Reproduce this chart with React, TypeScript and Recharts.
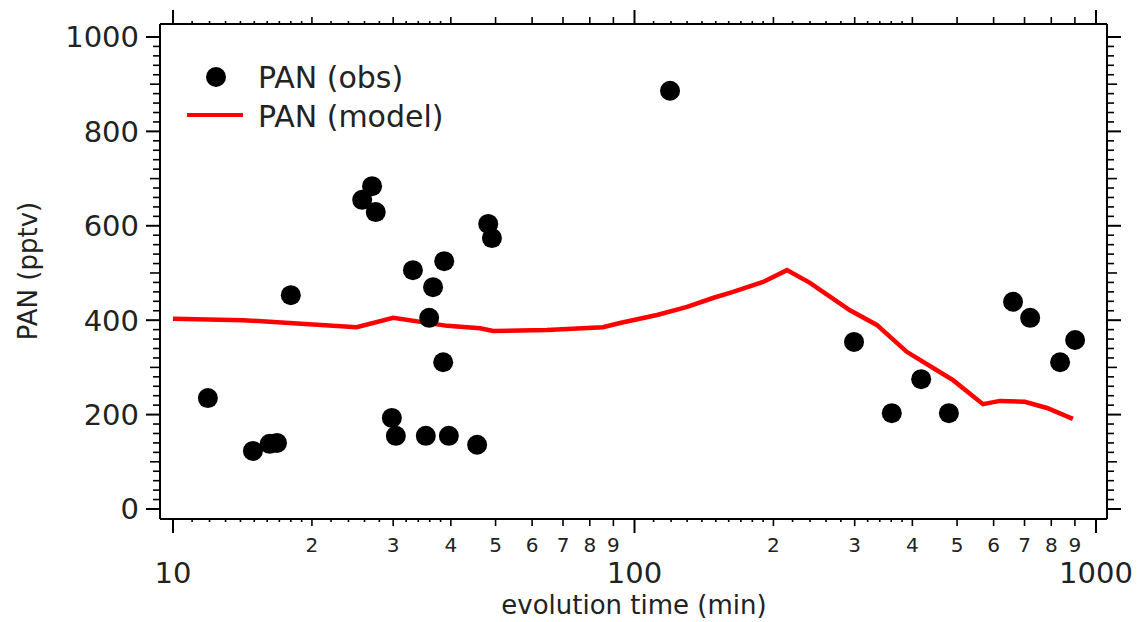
import React from 'react';
import { ScatterChart, Scatter, XAxis, YAxis, Legend } from 'recharts';

// ---- data ----
const obsTime = [11.9, 14.9, 16.2, 16.8, 18.0, 25.7, 27.0, 27.5, 29.8, 30.4, 33.1, 35.3, 35.9, 36.6, 38.5, 38.7, 39.6, 45.6, 48.2, 49.1, 119.4, 299, 361, 418, 480, 661, 720, 836, 901];
const obsPAN = [235, 123, 138, 140, 453, 655, 684, 629, 193, 155, 506, 155, 405, 470, 311, 525, 155, 136, 604, 574, 886, 354, 203, 275, 203, 439, 405, 311, 358];

const modelTime = [10, 14.2, 25.0, 30.0, 39.3, 46.3, 49.4, 64.6, 85.4, 93.0, 111.9, 130, 147.9, 163.5, 190, 214, 240, 293, 335, 389, 452, 490, 569, 619, 701, 783, 891];
const modelPAN = [403, 400, 385, 405, 388, 383, 377, 379, 385, 394, 411, 428, 447, 460, 481, 506, 479, 421, 390, 333, 294, 273, 222, 229, 227, 214, 191];

const xMajorTicks = [10, 100, 1000];
const xMajorLabels = ['10', '100', '1000'];
const xMediumTicks = [20, 30, 40, 50, 60, 70, 80, 90, 200, 300, 400, 500, 600, 700, 800, 900];
const xMediumLabels = ['2', '3', '4', '5', '6', '7', '8', '9', '2', '3', '4', '5', '6', '7', '8', '9'];
const xMinorTicks = [11, 12, 13, 14, 15, 16, 17, 18, 19, 22, 24, 26, 28, 32, 34, 36, 38, 110, 120, 130, 140, 150, 160, 170, 180, 190, 220, 240, 260, 280, 320, 340, 360, 380];
const yLabelTicks = [0, 200, 400, 600, 800, 1000];
const yLabels = ['0', '200', '400', '600', '800', '1000'];

const obsData = obsTime.map((t, i) => ({ t, v: obsPAN[i] }));
const modelData = modelTime.map((t, i) => ({ t, v: modelPAN[i] }));

const xTicks = [...xMajorTicks, ...xMediumTicks, ...xMinorTicks].sort((a, b) => a - b);
const yTicks: number[] = Array.from({ length: 51 }, (_, i) => i * 20);

const X_DOMAIN: [number, number] = [9.372, 1056.4];
const Y_DOMAIN: [number, number] = [-21.2, 1027.5];
const FONT = 'DejaVu Sans, Verdana, sans-serif';

const xKind = (v: number) => {
  if (xMajorTicks.includes(v)) return 'major';
  if (xMediumTicks.includes(v)) return 'medium';
  return 'minor';
};

const BottomTick = (props: any) => {
  const { x, y, payload } = props;
  const v = payload.value;
  const kind = xKind(v);
  const len = kind === 'major' ? 14 : kind === 'medium' ? 7 : 3;
  let label: React.ReactNode = null;
  if (kind === 'major') {
    label = (
      <text x={x} y={y + 64} textAnchor="middle" fontSize={29} fontFamily={FONT} fill="#222">
        {xMajorLabels[xMajorTicks.indexOf(v)]}
      </text>
    );
  } else if (kind === 'medium') {
    label = (
      <text x={x} y={y + 33} textAnchor="middle" fontSize={20} fontFamily={FONT} fill="#222">
        {xMediumLabels[xMediumTicks.indexOf(v)]}
      </text>
    );
  }
  return (
    <g>
      <line x1={x} x2={x} y1={y} y2={y + len} stroke="#000" strokeWidth={kind === 'major' ? 2 : 1.6} />
      {label}
    </g>
  );
};

const TopTick = (props: any) => {
  const { x, y, payload } = props;
  const kind = xKind(payload.value);
  const len = kind === 'major' ? 14 : kind === 'medium' ? 7 : 3;
  return <line x1={x} x2={x} y1={y} y2={y - len} stroke="#000" strokeWidth={kind === 'major' ? 2 : 1.6} />;
};

const yLen = (v: number) => (v % 200 === 0 ? 14 : v % 100 === 0 ? 10 : 7);

const LeftTick = (props: any) => {
  const { x, y, payload } = props;
  const v = payload.value;
  const idx = yLabelTicks.indexOf(v);
  return (
    <g>
      <line x1={x} x2={x - yLen(v)} y1={y} y2={y} stroke="#000" strokeWidth={v % 200 === 0 ? 2 : 1.6} />
      {idx >= 0 && (
        <text x={x - 21} y={y} dy="0.36em" textAnchor="end" fontSize={29} fontFamily={FONT} fill="#222">
          {yLabels[idx]}
        </text>
      )}
    </g>
  );
};

const RightTick = (props: any) => {
  const { x, y, payload } = props;
  const v = payload.value;
  return <line x1={x} x2={x + yLen(v)} y1={y} y2={y} stroke="#000" strokeWidth={v % 200 === 0 ? 2 : 1.6} />;
};

const LegendContent = () => (
  <svg width={470} height={140} style={{ overflow: 'visible' }}>
    <circle cx={216} cy={77} r={10} fill="#000" />
    <text x={258} y={77} dy="0.36em" fontSize={30} fontFamily={FONT} fill="#222">PAN (obs)</text>
    <line x1={187} x2={243} y1={115} y2={115} stroke="#ff0000" strokeWidth={4} />
    <text x={258} y={116} dy="0.36em" fontSize={30} fontFamily={FONT} fill="#222">PAN (model)</text>
  </svg>
);

const Dot = (p: any) => <circle cx={p.cx} cy={p.cy} r={10} fill="#000" />;
const NoDot = () => <g />;

export default function App() {
  return (
    <div style={{ position: 'absolute', left: 0, top: 0, width: 1138, height: 622, background: '#fff' }}>
      <ScatterChart width={1138} height={622} margin={{ top: 0, right: 0, bottom: 0, left: 0 }}>
        <XAxis
          xAxisId={0}
          dataKey="t"
          type="number"
          scale="log"
          domain={X_DOMAIN}
          allowDataOverflow
          ticks={xTicks}
          interval={0}
          height={103}
          tickSize={0}
          tickMargin={0}
          tickLine={false}
          axisLine={{ stroke: '#000', strokeWidth: 2 }}
          tick={(p: any) => <BottomTick {...p} />}
          label={{ value: 'evolution time (min)', position: 'insideBottom', offset: 0, content: () => (
            <text x={634} y={614} textAnchor="middle" fontSize={26} fontFamily={FONT} fill="#222">evolution time (min)</text>
          ) }}
        />
        <XAxis
          xAxisId="top"
          dataKey="t"
          type="number"
          scale="log"
          orientation="top"
          domain={X_DOMAIN}
          allowDataOverflow
          ticks={xTicks}
          interval={0}
          height={24}
          tickSize={0}
          tickMargin={0}
          tickLine={false}
          axisLine={{ stroke: '#000', strokeWidth: 2 }}
          tick={(p: any) => <TopTick {...p} />}
        />
        <YAxis
          yAxisId={0}
          dataKey="v"
          type="number"
          domain={Y_DOMAIN}
          allowDataOverflow
          ticks={yTicks}
          interval={0}
          width={160}
          tickSize={0}
          tickMargin={0}
          tickLine={false}
          axisLine={{ stroke: '#000', strokeWidth: 2 }}
          tick={(p: any) => <LeftTick {...p} />}
          label={{ value: 'PAN (pptv)', content: () => (
            <text x={28} y={271} dy="0.36em" transform="rotate(-90 28 271)" textAnchor="middle" fontSize={26} fontFamily={FONT} fill="#222">PAN (pptv)</text>
          ) }}
        />
        <YAxis
          yAxisId="right"
          dataKey="v"
          type="number"
          orientation="right"
          domain={Y_DOMAIN}
          allowDataOverflow
          ticks={yTicks}
          interval={0}
          width={31}
          tickSize={0}
          tickMargin={0}
          tickLine={false}
          axisLine={{ stroke: '#000', strokeWidth: 2 }}
          tick={(p: any) => <RightTick {...p} />}
        />
        <Legend
          layout="vertical"
          align="center"
          verticalAlign="middle"
          wrapperStyle={{ position: 'absolute', left: 0, top: 0, width: 470, height: 140 }}
          content={() => <LegendContent />}
        />
        <Scatter
          name="PAN (model)"
          data={modelData}
          xAxisId={0}
          yAxisId={0}
          line={{ stroke: '#ff0000', strokeWidth: 4.5 }}
          lineType="joint"
          shape={NoDot}
          isAnimationActive={false}
        />
        <Scatter
          name="PAN (obs)"
          data={obsData}
          xAxisId={0}
          yAxisId={0}
          shape={Dot}
          isAnimationActive={false}
        />
      </ScatterChart>
    </div>
  );
}
